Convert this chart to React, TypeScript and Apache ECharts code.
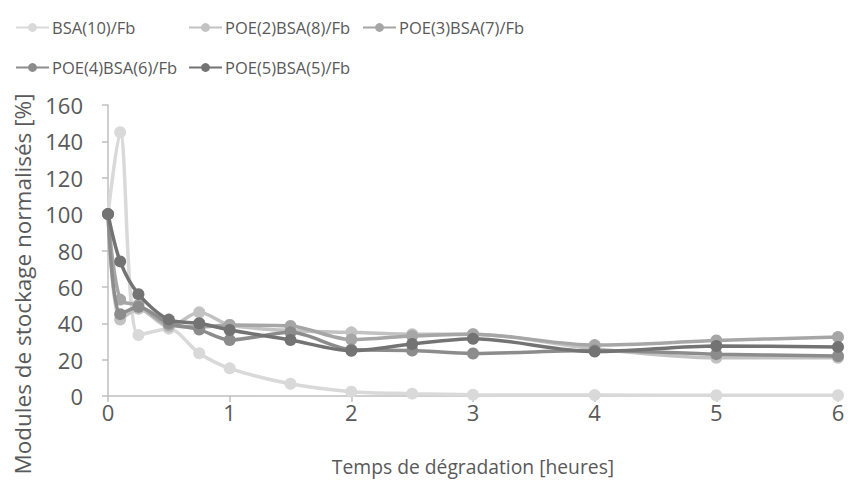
import React, { useEffect, useRef } from "react";
import * as echarts from "echarts";

const hours = [0, 0.1, 0.25, 0.5, 0.75, 1, 1.5, 2, 2.5, 3, 4, 5, 6];
const seriesNames = [
  "BSA(10)/Fb",
  "POE(2)BSA(8)/Fb",
  "POE(3)BSA(7)/Fb",
  "POE(4)BSA(6)/Fb",
  "POE(5)BSA(5)/Fb",
];
const bsa10 = [100, 145, 33.5, 37, 23.5, 15.2, 6.7, 2.4, 1.3, 0.7, 0.5, 0.4, 0.4];
const poe2 = [100, 42, 48, 38, 46, 39, 36, 35, 34, 34, 26, 21, 21];
const poe3 = [100, 53, 50, 39, 38, 39, 38.5, 31, 33, 34, 28, 30.5, 32.5];
const poe4 = [100, 45, 49, 40, 36.5, 30.8, 35, 25.5, 25, 23.4, 25, 23, 22];
const poe5 = [100, 74, 56, 42, 40, 36.3, 30.8, 24.9, 28.6, 31.5, 24.4, 27.5, 27];
const allValues = [bsa10, poe2, poe3, poe4, poe5];
const colors = ["#d9d9d9", "#c2c2c2", "#a6a6a6", "#8c8c8c", "#737373"];

const xTitle = "Temps de dégradation [heures]";
const yTitle = "Modules de stockage normalisés [%]";

const legendPos = [
  { left: 15, top: 19 },
  { left: 188, top: 19 },
  { left: 362, top: 19 },
  { left: 15, top: 59 },
  { left: 188, top: 59 },
];

export default function App() {
  const ref = useRef<HTMLDivElement>(null);
  useEffect(() => {
    if (!ref.current) return;
    const chart = echarts.init(ref.current, null, { renderer: "svg" });
    const font = "Open Sans";
    const textColor = "#595959";
    chart.setOption({
      animation: false,
      backgroundColor: "#ffffff",
      legend: seriesNames.map((n, i) => ({
        left: legendPos[i].left,
        top: legendPos[i].top,
        data: [n],
        itemWidth: 33,
        itemHeight: 11,
        itemGap: 0,
        padding: 0,
        textStyle: { fontFamily: font, fontSize: 16.5, color: textColor, padding: [0, 0, 0, -2] },
      })),
      graphic: [
        {
          type: "text",
          x: 22,
          y: 284,
          rotation: Math.PI / 2,
          style: {
            text: yTitle,
            fontFamily: font,
            fontSize: 22.5,
            fill: textColor,
            align: "center",
            verticalAlign: "middle",
          },
        },
      ],
      grid: { left: 108, right: 12, top: 105, bottom: 88 },
      xAxis: {
        type: "value",
        min: 0,
        max: 6,
        interval: 1,
        name: xTitle,
        nameLocation: "middle",
        nameGap: 61,
        nameTextStyle: { fontFamily: font, fontSize: 19.3, color: textColor },
        axisLine: { show: true, lineStyle: { color: "#bfbfbf", width: 1.5 } },
        axisTick: { show: true, length: 6, lineStyle: { color: "#bfbfbf", width: 1.5 } },
        splitLine: { show: false },
        axisLabel: { fontFamily: font, fontSize: 22, color: textColor, margin: 5 },
      },
      yAxis: {
        type: "value",
        min: 0,
        max: 160,
        interval: 20,
        axisLine: { show: true, lineStyle: { color: "#bfbfbf", width: 1.5 } },
        axisTick: { show: true, length: 6, lineStyle: { color: "#bfbfbf", width: 1.5 } },
        splitLine: { show: false },
        axisLabel: { fontFamily: font, fontSize: 22, color: textColor, margin: 25 },
      },
      series: seriesNames.map((n, i) => ({
        name: n,
        type: "line",
        smooth: 0.3,
        symbol: "circle",
        symbolSize: 12,
        data: hours.map((h, j) => [h, allValues[i][j]]),
        itemStyle: { color: colors[i] },
        lineStyle: { color: colors[i], width: 3.5 },
        z: 2 + i,
      })),
    });
    return () => chart.dispose();
  }, []);
  return <div ref={ref} style={{ width: 850, height: 484, position: "absolute", left: 0, top: 0 }} />;
}
